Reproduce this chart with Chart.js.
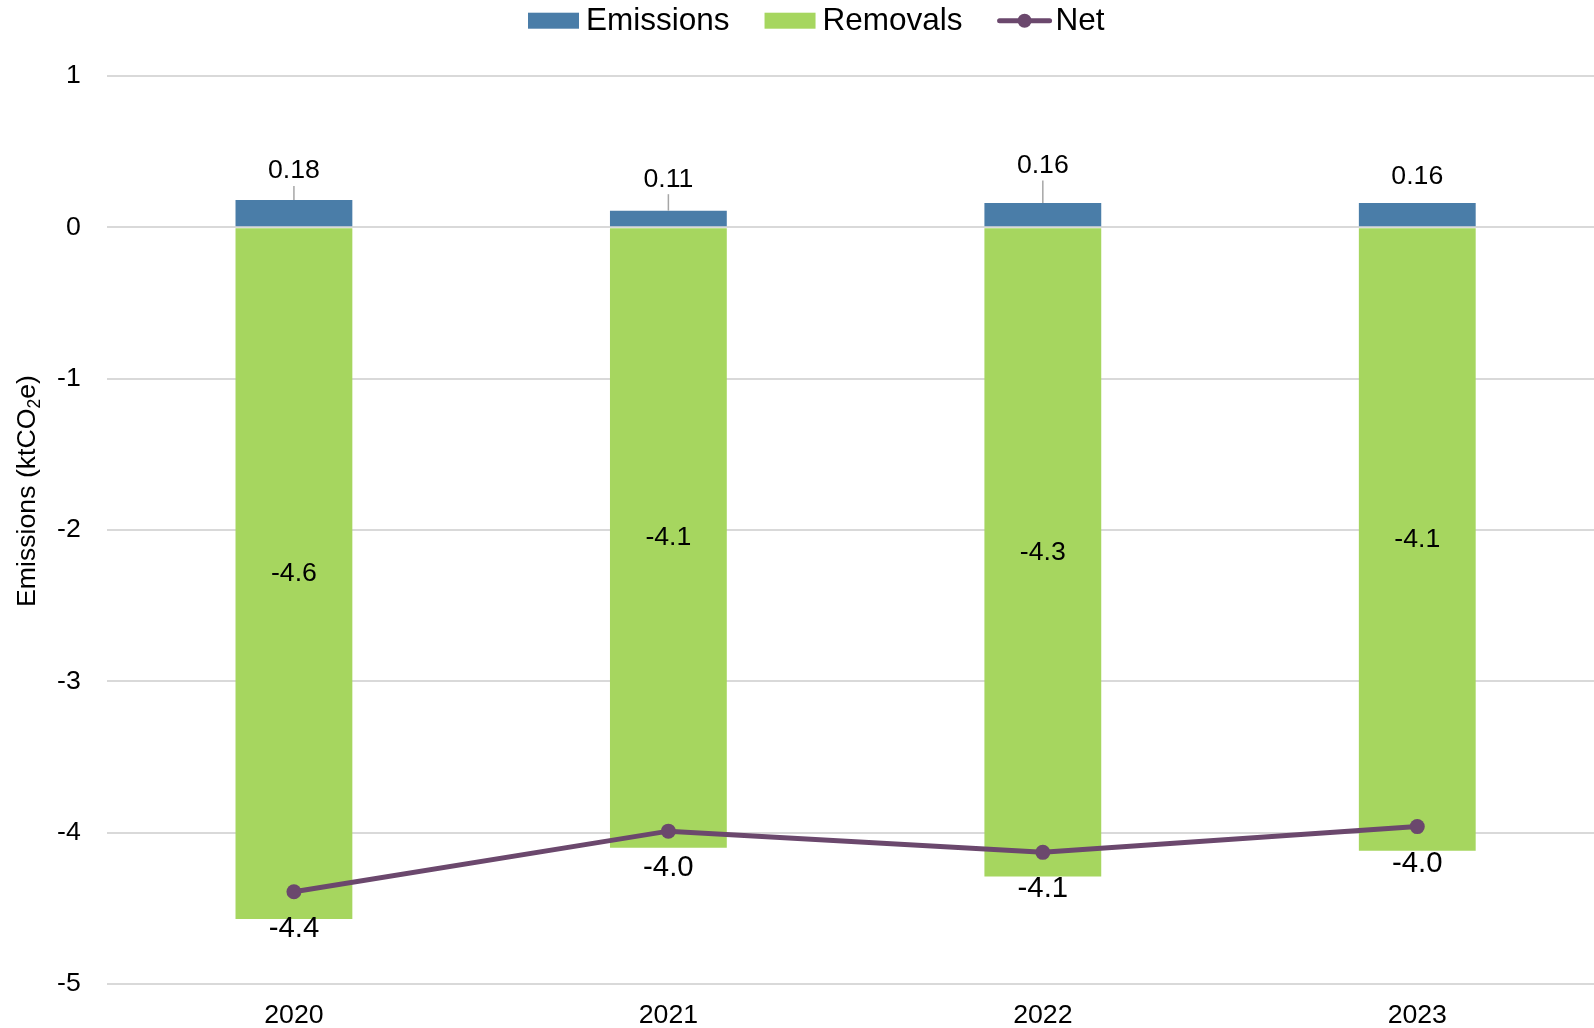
<!DOCTYPE html>
<html>
<head>
<meta charset="utf-8">
<script src="https://cdn.jsdelivr.net/npm/chart.js@4/dist/chart.umd.min.js"></script>
<style>
  html, body { margin: 0; padding: 0; background: #ffffff; overflow: hidden; }
  #clip { position: relative; width: 1594px; height: 1028px; overflow: hidden; }
  #wrap { position: absolute; left: 0; top: 0; width: 1612px; height: 1028px; }
</style>
</head>
<body>
<div id="clip"><div id="wrap"><canvas id="c"></canvas></div></div>
<script>
const categories = ['2020', '2021', '2022', '2023'];
const emissions = [0.18, 0.11, 0.16, 0.16];
const removals = [-4.57, -4.10, -4.29, -4.12];
const net = [-4.39, -3.99, -4.13, -3.96];
const yTicks = [1, 0, -1, -2, -3, -4, -5];

const FONT = '"Liberation Sans", Arial, sans-serif';
const COL_EM = '#4A7DA8';
const COL_RM = '#A6D65F';
const COL_NET = '#6B486D';

const labelPlugin = {
  id: 'valueLabels',
  afterDatasetsDraw(chart, args, opts) {
    const ctx = chart.ctx;
    ctx.save();
    ctx.fillStyle = '#000';
    ctx.textAlign = 'center';
    ctx.textBaseline = 'middle';
    const mEm = chart.getDatasetMeta(0);
    ctx.font = '26.67px ' + FONT;
    mEm.data.forEach((bar, j) => {
      const ly = bar.y - opts.emOffsets[j];
      if (opts.emLeaders[j]) {
        ctx.strokeStyle = '#A6A6A6';
        ctx.lineWidth = 1.5;
        ctx.beginPath();
        ctx.moveTo(bar.x, ly + 15);
        ctx.lineTo(bar.x, bar.y);
        ctx.stroke();
      }
      ctx.fillText(emissions[j].toFixed(2), bar.x, ly);
    });
    const mRm = chart.getDatasetMeta(1);
    mRm.data.forEach((bar, j) => {
      ctx.fillText(removals[j].toFixed(1), bar.x, (bar.y + bar.base) / 2);
    });
    const mNet = chart.getDatasetMeta(2);
    ctx.font = '29.33px ' + FONT;
    mNet.data.forEach((pt, j) => {
      ctx.fillText(net[j].toFixed(1), pt.x, pt.y + opts.netOffset);
    });
    ctx.restore();
  },
  afterDraw(chart, args, opts) {
    const ctx = chart.ctx;
    // Legend
    ctx.save();
    ctx.font = '31.5px ' + FONT;
    ctx.textBaseline = 'middle';
    ctx.textAlign = 'left';
    let x = opts.legendX;
    const cy = opts.legendY;
    chart.data.datasets.forEach((ds, i) => {
      if (ds.type === 'line') {
        ctx.strokeStyle = ds.borderColor;
        ctx.lineWidth = 5;
        ctx.lineCap = 'round';
        ctx.beginPath();
        ctx.moveTo(x + 2, cy);
        ctx.lineTo(x + 52, cy);
        ctx.stroke();
        ctx.fillStyle = ds.borderColor;
        ctx.beginPath();
        ctx.arc(x + 27, cy, 7, 0, Math.PI * 2);
        ctx.fill();
      } else {
        ctx.fillStyle = ds.backgroundColor;
        ctx.fillRect(x, cy - 8, 51, 16);
      }
      x += 58;
      ctx.fillStyle = '#000';
      ctx.fillText(ds.label, x, cy + 1);
      x += ctx.measureText(ds.label).width + 35;
    });
    ctx.restore();
    // Y axis title with subscript
    ctx.save();
    ctx.translate(opts.titleX, opts.titleY);
    ctx.rotate(-Math.PI / 2);
    ctx.fillStyle = '#000';
    ctx.textBaseline = 'alphabetic';
    ctx.textAlign = 'left';
    const p1 = 'Emissions (ktCO', p2 = '2', p3 = 'e)';
    ctx.font = '26.67px ' + FONT;
    const w1 = ctx.measureText(p1).width;
    const w3 = ctx.measureText(p3).width;
    ctx.font = '17.5px ' + FONT;
    const w2 = ctx.measureText(p2).width;
    let tx = -(w1 + w2 + w3) / 2;
    const base = 9.5;
    ctx.font = '26.67px ' + FONT;
    ctx.fillText(p1, tx, base);
    tx += w1;
    ctx.font = '17.5px ' + FONT;
    ctx.fillText(p2, tx, base + 5);
    tx += w2;
    ctx.font = '26.67px ' + FONT;
    ctx.fillText(p3, tx, base);
    ctx.restore();
  }
};

const chart = new Chart(document.getElementById('c'), {
  type: 'bar',
  data: {
    labels: categories,
    datasets: [
      { label: 'Emissions', data: emissions, backgroundColor: COL_EM, stack: 'bars', order: 1,
        barPercentage: 0.312, categoryPercentage: 1.0 },
      { label: 'Removals', data: removals, backgroundColor: COL_RM, stack: 'bars', order: 1,
        barPercentage: 0.312, categoryPercentage: 1.0 },
      { label: 'Net', type: 'line', data: net, stack: 'net', order: 0,
        borderColor: COL_NET, backgroundColor: COL_NET, borderWidth: 5,
        pointRadius: 7.5, pointHoverRadius: 7.5, pointBackgroundColor: COL_NET, pointBorderWidth: 0,
        tension: 0, fill: false }
    ]
  },
  options: {
    responsive: true,
    maintainAspectRatio: false,
    animation: false,
    devicePixelRatio: 1,
    layout: { padding: { left: 31, right: 0, top: 76, bottom: -20 } },
    scales: {
      x: {
        stacked: true,
        grid: { display: false, drawTicks: false },
        border: { display: false },
        ticks: { color: '#000', font: { family: FONT, size: 26.67 }, padding: 16, maxRotation: 0 }
      },
      y: {
        stacked: true,
        min: -5, max: 1,
        afterBuildTicks(scale) { scale.ticks = yTicks.map(v => ({ value: v })); },
        grid: { color: '#D9D9D9', lineWidth: 2, drawTicks: false },
        border: { display: false },
        ticks: { color: '#000', font: { family: FONT, size: 26.67 }, padding: 26 }
      }
    },
    plugins: {
      tooltip: { enabled: false },
      legend: { display: false },
      valueLabels: {
        emOffsets: [29, 31.5, 37.5, 26.5],
        emLeaders: [true, true, true, false],
        netOffset: 37,
        titleX: 25, titleY: 491,
        legendX: 528, legendY: 20.7
      }
    }
  },
  plugins: [labelPlugin]
});
</script>
</body>
</html>
